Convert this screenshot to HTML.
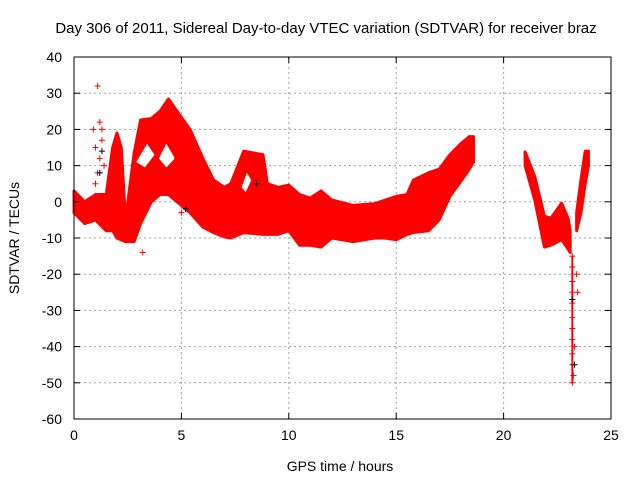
<!DOCTYPE html>
<html><head><meta charset="utf-8"><style>
body{margin:0;background:#fff}
svg{display:block;font-family:"Liberation Sans",sans-serif}
</style></head><body>
<svg id="chart" width="640" height="480" viewBox="0 0 640 480">
<rect width="640" height="480" fill="#fff"/>
<text x="326" y="33" font-size="15" text-anchor="middle">Day 306 of 2011, Sidereal Day-to-day VTEC variation (SDTVAR) for receiver braz</text>
<text transform="translate(19,238) rotate(-90)" font-size="14" text-anchor="middle">SDTVAR / TECUs</text>
<text x="340" y="471" font-size="14" text-anchor="middle">GPS time / hours</text>
<g id="grid"></g>
<g id="series"></g>
<g id="axes"></g>
</svg>
<script>
const xTicks=[0,5,10,15,20,25];
const yTicks=[-60,-50,-40,-30,-20,-10,0,10,20,30,40];
const segATimes=[0,0.5,1,1.5,1.8,2.0,2.2,2.4,2.8,3.1,3.6,4.0,4.4,4.8,5.4,6.0,6.5,7.0,7.3,7.9,8.8,9.0,9.5,10,10.5,11,11.5,12,13,14,14.5,15,15.5,15.8,16.5,17,17.5,18,18.4,18.6];
const segAUpper=[3,0,2,2,15,19,15,-5,13.5,22.6,23,25,28.4,25,20,12,6,4,5,14,13,5,4,4.6,2,1,3,0.5,-1,-0.5,0.5,1.5,2,6,8,9,13,16,18,18];
const segALower=[-3,-6,-5,-8,-8,-10,-10.5,-11,-11,-6,0,2,2,0,-3,-7,-8.5,-9.7,-10,-8.5,-9,-9,-9,-8,-12,-12,-12.5,-10,-11,-10,-10,-10.5,-9,-8.5,-8,-5,1.5,5.6,9,11];
const segBTimes=[21.0,21.45,21.9,22.2,22.7,23.0,23.1];
const segBUpper=[13.8,7,-4,-4.5,-0.4,-4.5,-8];
const segBLower=[10,0.5,-12.5,-12,-10.5,-13,-14];
const segCTimes=[23.4,23.6,23.8,23.95];
const segCUpper=[-3,6,14,14];
const segCLower=[-8,-3,5,10];
const hole1T=[2.9,3.4,3.75,3.3];
const hole1V=[11,16,13,9.5];
const hole2T=[3.95,4.3,4.7,4.3];
const hole2V=[12,16,12,9.5];
const hole3T=[7.8,8.05,8.25,8.0];
const hole3V=[4,8,6,2.7];
const outT=[1.0,1.1,1.2,1.3,0.9,1.2,1.1,1.3,1.0,1.4,3.2,4.8,5.0,23.2,23.2,23.2,23.2,23.2,23.2,23.2,23.2,23.2,23.2,23.2,23.25,23.3,23.4,23.45];
const outV=[15,32,22,20,20,12,8,17,5,10,-14,12,-3,-15,-18,-22,-25,-28,-32,-35,-38,-42,-45,-50,-48,-40,-20,-25];
const blackT=[1.2,1.3,5.2,23.2,23.3,8.5];
const blackV=[8,14,-2,-27,-45,5];

const X0=74,X1=611,Y0=419,Y1=57;
const xs=t=>X0+(t-0)/(25-0)*(X1-X0);
const ys=v=>Y0-(v+60)/100*(Y0-Y1);
const NS="http://www.w3.org/2000/svg";
function mk(tag,attrs,parent){const e=document.createElementNS(NS,tag);for(const k in attrs)e.setAttribute(k,attrs[k]);parent.appendChild(e);return e;}
const grid=document.getElementById('grid'),axes=document.getElementById('axes'),series=document.getElementById('series');
xTicks.forEach(t=>{
  if(t>0&&t<25){const l=mk('line',{x1:xs(t),x2:xs(t),y1:Y1,y2:Y0,stroke:'#a0a0a0','stroke-dasharray':'2,3'},grid);
  
  }
  mk('line',{x1:xs(t),x2:xs(t),y1:Y0,y2:Y0-6,stroke:'#000'},axes);
  mk('line',{x1:xs(t),x2:xs(t),y1:Y1,y2:Y1+6,stroke:'#000'},axes);
  const tx=mk('text',{x:xs(t),y:Y0+21,'font-size':14,'text-anchor':'middle'},axes);tx.textContent=t;
  
  
});
yTicks.forEach(v=>{
  if(v>-60&&v<40){const l=mk('line',{x1:X0,x2:X1,y1:ys(v),y2:ys(v),stroke:'#a0a0a0','stroke-dasharray':'2,3'},grid);
  
  }
  mk('line',{x1:X0,x2:X0+6,y1:ys(v),y2:ys(v),stroke:'#000'},axes);
  mk('line',{x1:X1,x2:X1-6,y1:ys(v),y2:ys(v),stroke:'#000'},axes);
  const tx=mk('text',{x:X0-12,y:ys(v)+5,'font-size':14,'text-anchor':'end'},axes);tx.textContent=v;
  
  
});
const border=mk('rect',{x:X0,y:Y1,width:X1-X0,height:Y0-Y1,fill:'none',stroke:'#000'},axes);


function plus(t,v,c){
  const x=xs(t),y=ys(v);
  const p=mk('path',{d:`M${x-3},${y}h6M${x},${y-3}v6`,stroke:c,'stroke-width':1},series);
  
  
}
function band(T,U,L,name){
  let pts=T.map((t,i)=>xs(t)+','+ys(U[i]));
  for(let i=T.length-1;i>=0;i--)pts.push(xs(T[i])+','+ys(L[i]));
  const p=mk('polygon',{points:pts.join(' '),fill:'#ff0000',stroke:'#ff0000','stroke-width':3,'stroke-linejoin':'round'},series);
  
  
}
function hole(T,V,name){
  const p=mk('polygon',{points:T.map((t,i)=>xs(t)+','+ys(V[i])).join(' '),fill:'#fff'},series);
  
  
}
band(segATimes,segAUpper,segALower,'band-0-18h');
band(segBTimes,segBUpper,segBLower,'band-21-23h');
band(segCTimes,segCUpper,segCLower,'band-23-24h');
hole(hole1T,hole1V,'loop-gap-1');
hole(hole2T,hole2V,'loop-gap-2');
hole(hole3T,hole3V,'loop-gap-3');
const spikeVals=outV.filter((v,i)=>Math.abs(outT[i]-23.2)<0.01);
const sl=mk('line',{x1:xs(23.2),x2:xs(23.2),y1:ys(Math.max(...spikeVals)),y2:ys(Math.min(...spikeVals)),stroke:'#f00','stroke-width':2},series);


outT.forEach((t,i)=>plus(t,outV[i],'#f00'));
blackT.forEach((t,i)=>plus(t,blackV[i],'#000'));
</script>
</body></html>
